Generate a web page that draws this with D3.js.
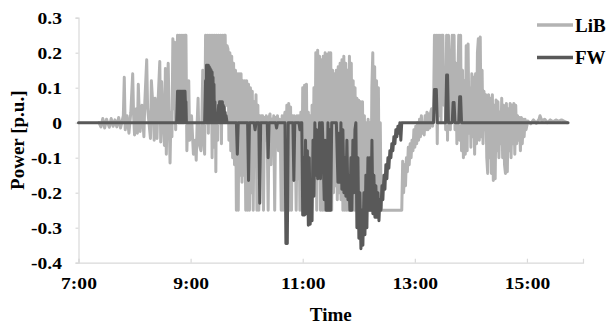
<!DOCTYPE html>
<html>
<head>
<meta charset="utf-8">
<script src="https://cdn.jsdelivr.net/npm/d3@7"></script>
<style>
  html, body { margin: 0; padding: 0; background: #fff; }
  svg { display: block; }
  text { font-family: "Liberation Serif", "Times New Roman", serif; font-weight: bold; fill: #000; }
</style>
</head>
<body>
<svg id="chart" width="608" height="327"></svg>
<script>
// Battery (LiB) power, [minutes after 7:00, p.u.]
const libSeries = [
  [22,0],[24,-0.012],[26,0.012],[28,-0.015],[30,0.01],[33,-0.013],[35,0.012],[37,-0.01],[39,0.008],[41,-0.012],
  [43,0.015],[45,-0.015],[48,0.02],[49,0.13],[50,-0.02],[52,0.02],[54,-0.03],[56,0.03],[58,0.14],[59,0.02],
  [60,-0.035],[62,0.04],[63,-0.03],[64,0.11],[65,0.03],[66,-0.025],[68,0.05],[70,-0.04],[71,0.06],[73,0.18],
  [74,0.04],[77,-0.045],[78,0.12],[80,0.03],[81,-0.05],[82,0.07],[84,-0.045],[85,0.05],[87,0.175],[88,-0.055],
  [89,0.117],[90,0.04],[92,-0.065],[93,0.155],[94,-0.09],[95,0.06],[96,0.17],[97,0.02],[98,-0.115],[99,0.03],
  [100,-0.04],[101,0.24],[102,0.04],[103,0.23],[104,-0.02],[106,0.25],[107,0.05],[108,0.25],[109,0.03],[110,0.25],
  [111,0.06],[112,0.25],[113,0.05],[114,0.25],[115,0.25],[116,-0.08],[118,0.12],[119,-0.05],[121,0.02],[123,-0.09],
  [125,-0.05],[126,-0.107],[127,0],[128,0.07],[129,-0.06],[131,-0.08],[132,0],[133,0.15],[134,-0.05],[135,-0.09],
  [136,0.25],[137,0],[138,0.25],[139,-0.03],[140,0.25],[141,0.02],[142,0.25],[143,-0.1],[144,0.25],[145,-0.07],
  [146,0.25],[147,-0.14],[148,0.25],[149,-0.05],[150,0.25],[151,0.02],[152,0.25],[153,-0.06],[154,0.25],[155,0.03],
  [156,0.25],[157,0.25],[158,0.05],[159,0.22],[160,0.21],[161,-0.05],[162,0.2],[163,-0.08],[164,0.19],[165,-0.1],
  [166,0.17],[167,-0.12],[168,0.15],[169,-0.25],[170,0.14],[171,-0.25],[172,0.14],[173,-0.15],[174,0.14],[175,-0.17],
  [176,0.12],[177,-0.15],[178,0.12],[179,-0.25],[180,0.12],[181,-0.25],[182,0.11],[183,-0.25],[184,0.1],[185,-0.2],
  [186,0.09],[187,-0.25],[188,0.06],[189,-0.1],[190,0.08],[191,-0.25],[192,0.05],[193,-0.25],[194,0.02],[195,-0.05],
  [196,0.02],[197,0.02],[198,-0.25],[199,0.015],[200,-0.05],[201,0.02],[202,-0.04],[203,-0.25],[204,0.015],[205,0.025],
  [206,-0.12],[207,0.01],[208,-0.06],[209,0.02],[210,-0.25],[211,0.015],[212,-0.04],[213,0.02],[214,-0.08],[215,0.01],
  [216,-0.03],[217,-0.25],[218,0.02],[219,-0.25],[220,0.01],[221,0.03],[222,-0.1],[223,0.05],[224,-0.06],[225,0.055],
  [226,-0.25],[227,0.045],[228,-0.25],[229,0.02],[230,-0.08],[231,0.02],[232,-0.05],[233,-0.25],[234,0.02],[235,-0.16],
  [236,0.02],[237,-0.25],[238,0.03],[239,-0.25],[240,0.1],[241,-0.25],[242,0.107],[243,-0.25],[244,0.11],[245,-0.2],
  [246,0.03],[247,-0.25],[248,0.02],[249,-0.25],[250,0.05],[251,-0.2],[252,0.1],[253,-0.2],[254,0.2],[255,-0.25],
  [256,0.207],[257,-0.15],[258,0.19],[259,-0.25],[260,0.18],[261,-0.25],[262,0.19],[263,-0.25],[264,0.2],[265,-0.25],
  [266,0.195],[267,-0.25],[268,0.2],[269,-0.25],[270,0.2],[271,-0.25],[272,0.15],[273,-0.2],[274,0.14],[275,-0.18],
  [276,0.15],[277,-0.22],[278,0.16],[279,-0.2],[280,0.17],[281,-0.22],[282,0.18],[283,-0.25],[284,0.19],[285,-0.25],
  [286,0.17],[287,-0.25],[288,0.15],[289,-0.25],[290,0.19],[291,-0.25],[292,0.17],[293,-0.25],[294,0.12],[295,-0.25],
  [296,0.1],[297,-0.25],[298,0.07],[299,-0.25],[300,0.064],[301,-0.25],[302,0.06],[303,-0.25],[304,0.06],[305,-0.25],
  [306,0.02],[307,-0.25],[308,0],[309,-0.25],[310,0.01],[311,-0.25],[312,0],[313,-0.25],[314,0.1],[315,0.2],
  [316,-0.25],[317,0.16],[318,-0.25],[319,0.12],[320,-0.25],[321,0.1],[322,-0.25],[323,0],[324,-0.25],[346,-0.25],
  [347,-0.11],[348,-0.2],[349,-0.12],[350,-0.18],[351,-0.1],[352,-0.14],[353,-0.07],[354,-0.12],[355,-0.06],[356,-0.1],
  [357,-0.05],[358,-0.08],[359,-0.02],[360,-0.07],[361,-0.01],[362,-0.06],[363,0],[364,-0.05],[365,0.01],[366,-0.04],
  [367,0.02],[368,-0.03],[369,0],[370,-0.035],[371,0.02],[372,-0.02],[373,0.03],[374,-0.02],[375,0.025],[376,-0.015],
  [377,0.03],[378,0.04],[379,-0.01],[380,0.03],[381,0.25],[382,0.03],[383,0.25],[384,-0.06],[385,0.25],[386,0.02],
  [387,0.25],[388,0],[389,0.25],[390,0.25],[391,0.05],[392,0.15],[393,-0.02],[394,0.25],[395,-0.05],[396,0.25],
  [397,0.05],[398,-0.02],[399,0.18],[400,0.25],[401,0.05],[402,0.25],[403,-0.02],[404,0.17],[405,-0.06],[406,0.12],
  [407,0.25],[408,-0.05],[409,0.25],[410,-0.08],[411,0.15],[412,-0.1],[413,0.12],[414,-0.09],[415,0.22],[416,-0.08],
  [417,0.225],[418,-0.03],[419,0.1],[420,-0.07],[421,0.14],[422,-0.04],[423,0.13],[424,-0.09],[425,0.14],[426,-0.06],
  [427,0.2],[428,0.24],[429,-0.05],[430,0.245],[431,-0.04],[432,0.15],[433,-0.06],[434,0.09],[435,-0.02],[436,0.08],
  [437,-0.1],[438,-0.145],[439,0.08],[440,-0.1],[441,0.07],[442,-0.145],[443,0.08],[444,-0.165],[445,0.05],[446,-0.16],
  [447,0.065],[448,-0.08],[449,0.06],[450,-0.1],[451,0.03],[452,-0.06],[453,0.07],[454,-0.1],[455,0.05],[456,-0.12],
  [457,-0.145],[458,0.055],[459,-0.14],[460,0.04],[461,-0.08],[462,0.055],[463,-0.1],[464,0.05],[465,-0.06],[466,0.055],
  [467,-0.09],[468,0.05],[469,-0.06],[470,0.02],[471,-0.05],[472,0.015],[473,-0.08],[474,0.015],[475,-0.06],[476,0.01],
  [477,-0.04],[478,0.01],[479,-0.02],[481,0.005],[484,-0.003],[487,0.008],[490,-0.002],[493,0.01],[494,0.02],[496,0.005],
  [499,0.01],[502,0],[505,0.008],[508,0.003],[511,0.008],[514,0.004],[517,0.008],[520,0.004],[523,0]
];

// Flywheel (FW) power, [minutes after 7:00, p.u.]
const fwSeries = [
  [0,0],[105,0],[105.5,0.04],[106,0.09],[106.5,0],[107,0.09],[107.5,0],[108,0.09],[108.5,0],[109,0.09],[109.5,0],
  [110,0.09],[110.5,0],[111,0.09],[111.5,0],[112,0.09],[112.5,0],[113,0.09],[113.5,0],[114,0.09],[114.5,0.05],[115,0.06],[115.5,0],
  [135,0],[136,0.12],[136.5,0],[137,0.164],[137.5,0],[138,0.164],[138.5,0],[139,0.164],[139.5,0],[140,0.16],[140.5,0],
  [141,0.155],[141.5,0],[142,0.15],[142.5,0],[143,0.145],[143.5,0],[144,0.13],[144.5,0],[145,0.11],[145.5,0],[146,0.06],[146.5,0],[147,0],
  [149,0],[149.5,0.03],[150,0.05],[150.5,0],[151,0.06],[151.5,0],[152,0.06],[152.5,0],[153,0.06],[153.5,0],[154,0.06],[154.5,0],
  [155,0.05],[155.5,0],[156,0.045],[156.5,0],[157,0.03],[157.5,0],[158,0.02],[159,0],
  [169,0],[170,-0.09],[171,0],[181,0],[182,-0.165],[183,0],[188,0],[189,-0.02],[190,0],
  [193,0],[194,-0.23],[195,0],[202,0],[203,-0.1],[204,0],[211,0],[212,-0.015],[213,0],
  [221,0],[222,-0.345],[223.5,-0.345],[224.5,0],[229.5,0],[230.5,-0.165],[231.5,0],[236,0],[237,-0.02],[238,0],
  [239,0],[240,-0.264],[241,-0.1],[242,-0.264],[243,-0.05],[244,-0.26],[245,-0.08],[246,-0.293],[247,-0.1],[248,-0.29],
  [249,-0.2],[250,-0.28],[251,-0.05],[252,-0.21],[253,0],[254,-0.15],[255,-0.02],[256,-0.16],[257,-0.145],[258,0],
  [259,-0.16],[260,0],[261,0],[263,-0.22],[264,-0.05],[265,-0.25],[266,-0.25],[267,0],[268,-0.25],[269,-0.02],
  [270,-0.25],[271,0],[276,0],[277.7,-0.17],[278.7,-0.03],[279.8,-0.17],[280.9,0],[281.9,-0.19],[283,-0.02],[284.1,-0.2],
  [285.2,-0.1],[286.2,-0.21],[287.3,-0.05],[288.4,-0.22],[289.4,-0.15],[290.5,-0.25],[291.6,-0.1],[292.6,-0.25],[293.7,-0.05],[294.8,-0.2],
  [295.9,-0.02],[296.9,0],[298,-0.3],[299.1,-0.1],[300.1,-0.33],[301.2,-0.2],[302.3,-0.36],[303.4,-0.25],[304.4,-0.35],[305.5,-0.2],
  [306.6,-0.32],[307.6,-0.15],[308.7,-0.3],[309.8,-0.1],[310.9,-0.25],[311.9,-0.1],[313,-0.25],[314.1,-0.05],[315.1,-0.26],[316.2,-0.15],
  [317.3,-0.27],[318.3,-0.18],[319.4,-0.27],[320.5,-0.2],[321.6,-0.28],[322.6,-0.22],[323.7,-0.25],[324.8,-0.18],[325.8,-0.22],[326.9,-0.15],
  [328,-0.19],[329,-0.12],[330.1,-0.16],[331.2,-0.1],[332.2,-0.13],[333.3,-0.08],[334.4,-0.1],[335.4,-0.06],[336.5,-0.08],[337.6,-0.04],
  [338.7,-0.06],[339.7,-0.02],[340.8,-0.04],[341.9,-0.01],[342.9,-0.03],[344,0],[345,-0.05],[346,0],
  [380,0],[381,0.095],[383,0.095],[384,0],[393,0],[394,0.136],[395,0.136],[396,0],
  [400,0],[401,0.058],[402,0.058],[403,0],[407,0],[408,0.074],[409,0.074],[410,0],[524,0]
];

const yTickValues = [-0.4, -0.3, -0.2, -0.1, 0, 0.1, 0.2, 0.3];
const xTickLabels = ["7:00", "9:00", "11:00", "13:00", "15:00"];
const seriesNames = ["LiB", "FW"];
const seriesColors = ["#b3b3b3", "#595959"];

const svg = d3.select("#chart");
const axisColor = "#d9d9d9";
const labelStretch = 1.15;   // wide tick lettering

// Time axis spans 7:00-16:00 in minutes after 7:00
const x = d3.scaleLinear().domain([0, 540]).range([78.5, 583]);
const y = d3.scaleLinear().domain([-0.4, 0.3]).range([262.7, 17.7]);
const toMinutes = s => { const [h, m] = s.split(":").map(Number); return (h - 7) * 60 + m; };

function styleTickText(sel) {
  sel.attr("font-size", 17).attr("font-family", "Liberation Serif")
    .attr("font-weight", "bold").attr("fill", "#000");
}

// Value axis
const yAxis = d3.axisLeft(y).tickValues(yTickValues).tickSize(3).tickPadding(14)
  .tickFormat(d => d === 0 ? "0" : d3.format(".1f")(d).replace("−", "-"));
const gy = svg.append("g").attr("transform", `translate(${x.range()[0]},0)`).call(yAxis);
gy.select(".domain").attr("stroke", axisColor).attr("stroke-width", 1.2);
gy.selectAll(".tick line").attr("stroke", axisColor).attr("stroke-width", 1.2);
gy.selectAll(".tick text").call(styleTickText)
  .attr("x", -16.5 / labelStretch)
  .attr("transform", `scale(${labelStretch},1)`);

// Time axis
const xAxis = d3.axisBottom(x).tickValues(xTickLabels.map(toMinutes)).tickSize(-4).tickPadding(14)
  .tickFormat((d, i) => xTickLabels[i]);
const gx = svg.append("g").attr("transform", `translate(0,${y.range()[0]})`).call(xAxis);
gx.select(".domain").attr("stroke", axisColor).attr("stroke-width", 1.2);
gx.selectAll(".tick line").attr("stroke", axisColor).attr("stroke-width", 1.2);
gx.selectAll(".tick text").call(styleTickText)
  .attr("transform", `scale(${labelStretch},1)`);

// Series lines (FW drawn over LiB)
const line = d3.line().x(d => x(d[0])).y(d => y(d[1]));
[libSeries, fwSeries].forEach((data, i) => {
  svg.append("path").datum(data)
    .attr("d", line)
    .attr("fill", "none")
    .attr("stroke", seriesColors[i])
    .attr("stroke-width", 3)
    .attr("stroke-linejoin", "round")
    .attr("stroke-linecap", "round");
});

// Axis titles
svg.append("text").attr("x", (x.range()[0] + x.range()[1]) / 2).attr("y", 321)
  .attr("text-anchor", "middle").attr("font-size", 19).text("Time");
svg.append("text").attr("transform", `translate(24,${(y.range()[0] + y.range()[1]) / 2}) rotate(-90)`)
  .attr("text-anchor", "middle").attr("font-size", 19).text("Power [p.u.]");

// Legend
const legend = svg.append("g");
seriesNames.forEach((name, i) => {
  const ly = 25 + i * 32.5;
  legend.append("line").attr("x1", 537).attr("x2", 573).attr("y1", ly).attr("y2", ly)
    .attr("stroke", seriesColors[i]).attr("stroke-width", 3.5);
  legend.append("text").attr("x", 575).attr("y", ly + 6.5).attr("font-size", 19).text(name);
});
</script>
</body>
</html>
